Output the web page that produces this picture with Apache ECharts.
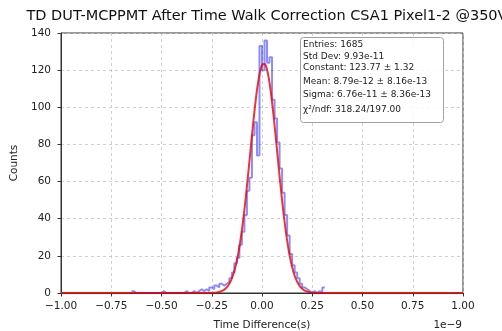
<!DOCTYPE html>
<html>
<head>
<meta charset="utf-8">
<script src="https://cdn.jsdelivr.net/npm/echarts@6/dist/echarts.min.js"></script>
<style>
  html, body { margin: 0; padding: 0; background: #fff; }
  #chart { width: 502px; height: 331px; }
</style>
</head>
<body>
<div id="chart"></div>
<script>
// Histogram of time differences (units of 1e-9 s), fixed-width bins
const binStart = -0.65;
const binWidth = 0.0125;
const binCounts = [
  1, 0, 0, 0, 0, 0, 0, 0, 0, 0, 0, 0,
  1, 0, 0, 0, 0, 0, 0, 0, 0,
  1, 0, 0, 1, 0, 1, 2, 1, 2, 1, 3, 2, 4, 3, 5, 4, 5,
  6, 8, 11, 16, 19, 26, 33, 42, 55, 62, 85, 92, 74,
  133, 120, 136, 124, 127, 104, 94, 81, 67, 54, 42, 31, 21,
  15, 11, 8, 5, 3, 2, 1, 0, 1, 0, 1, 0, 3
];

// Gaussian fit parameters (x in units of 1e-9 s)
const fitConstant = 123.77;
const fitMean = 0.00879;
const fitSigma = 0.0676;

const statLines = [
  'Entries: 1685',
  'Std Dev: 9.93e-11',
  'Constant: 123.77 \u00b1 1.32',
  'Mean: 8.79e-12 \u00b1 8.16e-13',
  'Sigma: 6.76e-11 \u00b1 8.36e-13',
  '\u03c7\u00b2/ndf: 318.24/197.00'
];

const titleText = 'TD DUT-MCPPMT After Time Walk Correction CSA1 Pixel1-2 @350V';

// step outline: each bin's left edge with its count, closed at the last right edge
const stepData = binCounts.map((c, i) => [binStart + i * binWidth, c]);
stepData.push([binStart + binCounts.length * binWidth, binCounts[binCounts.length - 1]]);

function gaussFit(x) {
  const z = (x - fitMean) / fitSigma;
  return fitConstant * Math.exp(-0.5 * z * z);
}
const fitData = [];
for (let i = 0; i <= 800; i++) {
  const x = -1 + i * 0.0025;
  fitData.push([x, gaussFit(x)]);
}

const font = 'DejaVu Sans';
const fmtX = v => (v < 0 ? '\u2212' : '') + Math.abs(v).toFixed(2);

const chart = echarts.init(document.getElementById('chart'), null, { renderer: 'canvas' });

const statLineY = [45, 56.5, 68, 81.5, 95, 110];
const statGraphics = [{
  type: 'rect',
  shape: { x: 300.5, y: 37.5, width: 143, height: 85, r: 3 },
  style: { fill: 'rgba(255,255,255,0.85)', stroke: '#a0a0a0', lineWidth: 1 },
  z: 100
}];
statLines.forEach((t, i) => {
  statGraphics.push({
    type: 'text',
    x: 303, y: statLineY[i],
    style: { text: t, font: '9px "DejaVu Sans"', fill: '#222', verticalAlign: 'middle', textVerticalAlign: 'middle' },
    z: 101
  });
});

chart.setOption({
  animation: false,
  backgroundColor: '#fff',
  title: {
    text: titleText,
    left: 262, top: 4, textAlign: 'center',
    textStyle: { fontFamily: font, fontSize: 14.5, fontWeight: 'normal', color: '#111' }
  },
  grid: {
    left: 61, top: 33, width: 402, height: 260,
    outerBoundsMode: 'none', containLabel: false,
    show: true, borderColor: '#333', borderWidth: 1, backgroundColor: 'transparent'
  },
  xAxis: {
    type: 'value', min: -1, max: 1, interval: 0.25,
    name: 'Time Difference(s)', nameLocation: 'middle', nameGap: 27,
    nameTextStyle: { fontFamily: font, fontSize: 10.5, color: '#222' },
    axisLine: { show: true, onZero: false, lineStyle: { color: '#333', width: 1 } },
    axisTick: { show: true, length: 3.5, lineStyle: { color: '#333' } },
    axisLabel: { fontFamily: font, fontSize: 10.5, color: '#222', margin: 8, formatter: fmtX },
    splitLine: { show: true, lineStyle: { color: '#c4c4c4', type: [3, 3], width: 0.8 } }
  },
  yAxis: {
    type: 'value', min: 0, max: 140, interval: 20,
    name: 'Counts', nameLocation: 'middle', nameGap: 35,
    nameTextStyle: { fontFamily: font, fontSize: 10.5, color: '#222' },
    axisLine: { show: true, onZero: false, lineStyle: { color: '#333', width: 1 } },
    axisTick: { show: true, length: 3.5, lineStyle: { color: '#333' } },
    axisLabel: { fontFamily: font, fontSize: 10.5, color: '#222', margin: 10 },
    splitLine: { show: true, lineStyle: { color: '#c4c4c4', type: [3, 3], width: 0.8 } }
  },
  series: [
    {
      name: 'data', type: 'line', step: 'end', data: stepData,
      showSymbol: false, symbol: 'none',
      lineStyle: { color: '#0000ff', width: 2, opacity: 0.45 },
      z: 3
    },
    {
      name: 'fit', type: 'line', data: fitData,
      showSymbol: false, symbol: 'none', smooth: false,
      lineStyle: { color: '#ee0000', width: 2, opacity: 0.8 },
      z: 4
    }
  ],
  graphic: statGraphics.concat([
    {
      type: 'text', x: 462, y: 325,
      style: { text: '1e\u22129', font: '10.5px "DejaVu Sans"', fill: '#222', align: 'right', textAlign: 'right', verticalAlign: 'middle', textVerticalAlign: 'middle' }
    }
  ])
});
</script>
</body>
</html>
